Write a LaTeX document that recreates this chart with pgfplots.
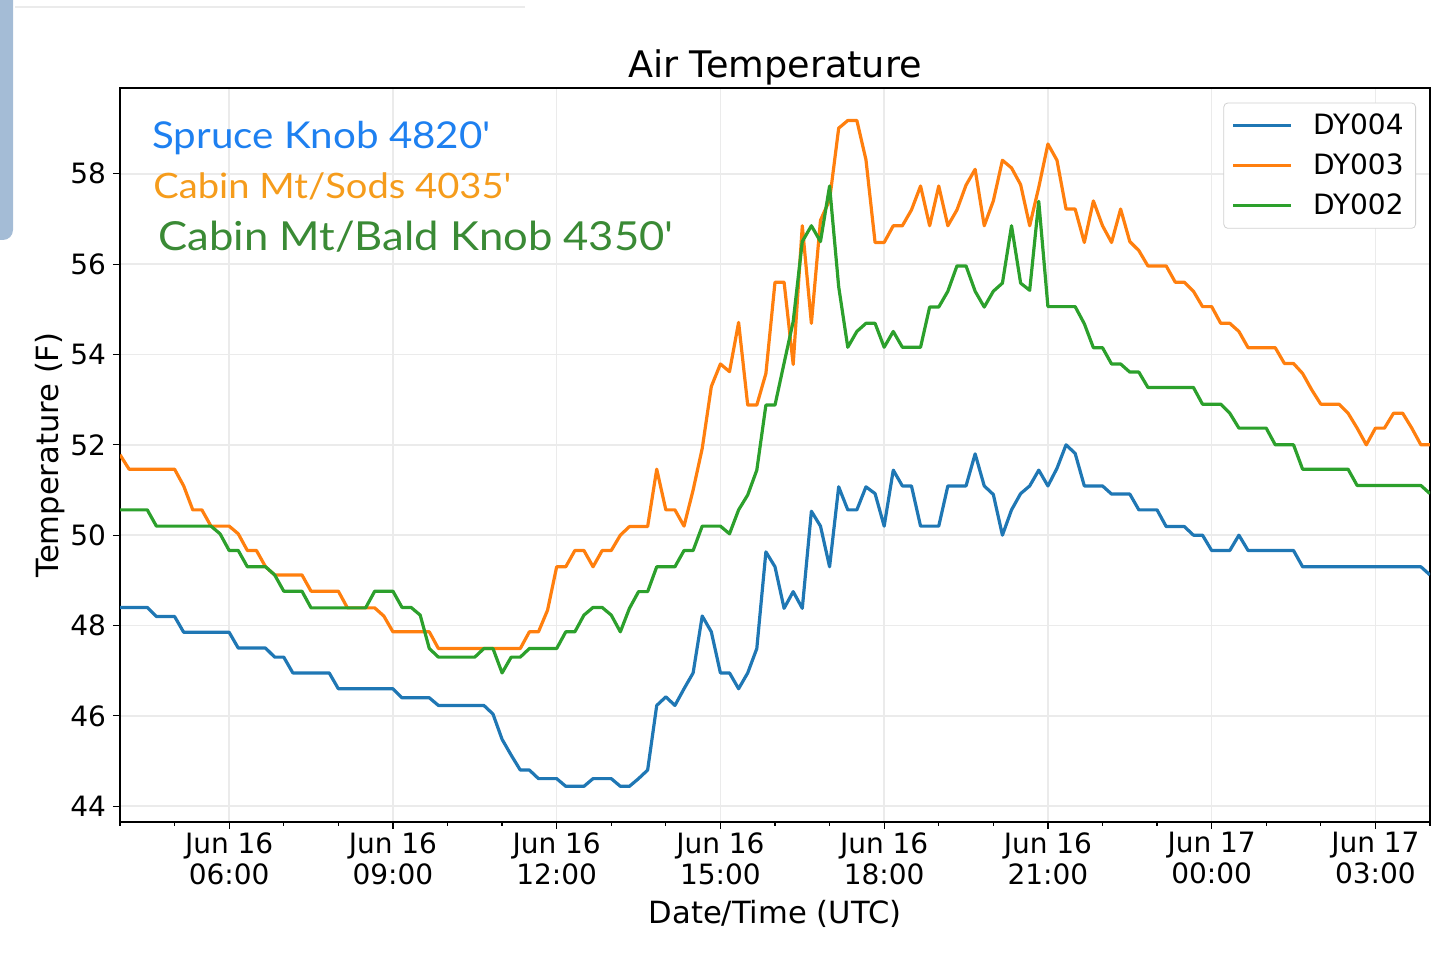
\documentclass[border=0pt]{standalone}
\usepackage{pgfplots}
\pgfplotsset{compat=1.18}
\usepackage{pgfplotstable}
\usepackage{fontspec}
\setmainfont{DejaVu Sans}
\newfontfamily\annotfont[FakeStretch=1.09]{Lato}
\definecolor{cblue}{HTML}{1F77B4}
\definecolor{corange}{HTML}{FF7F0E}
\definecolor{cgreen}{HTML}{2CA02C}
\definecolor{tblue}{HTML}{1E80F0}
\definecolor{torange}{HTML}{F59C1C}
\definecolor{tgreen}{HTML}{3A8A35}
\definecolor{sidebar}{HTML}{A4BCD6}
\definecolor{gridc}{HTML}{EBEBEB}

\pgfplotstableread{
i blue orange green
0 48.4 51.78 50.56
1 48.4 51.46 50.56
2 48.4 51.46 50.56
3 48.4 51.46 50.56
4 48.2 51.46 50.2
5 48.2 51.46 50.2
6 48.2 51.46 50.2
7 47.85 51.09 50.2
8 47.85 50.56 50.2
9 47.85 50.56 50.2
10 47.85 50.2 50.2
11 47.85 50.2 50.03
12 47.85 50.2 49.66
13 47.5 50.03 49.66
14 47.5 49.66 49.3
15 47.5 49.66 49.3
16 47.5 49.3 49.3
17 47.3 49.12 49.12
18 47.3 49.12 48.76
19 46.95 49.12 48.76
20 46.95 49.12 48.76
21 46.95 48.76 48.39
22 46.95 48.76 48.39
23 46.95 48.76 48.39
24 46.6 48.76 48.39
25 46.6 48.39 48.39
26 46.6 48.39 48.39
27 46.6 48.39 48.39
28 46.6 48.39 48.76
29 46.6 48.21 48.76
30 46.6 47.86 48.76
31 46.4 47.86 48.4
32 46.4 47.86 48.4
33 46.4 47.86 48.23
34 46.4 47.86 47.49
35 46.23 47.49 47.3
36 46.23 47.49 47.3
37 46.23 47.49 47.3
38 46.23 47.49 47.3
39 46.23 47.49 47.3
40 46.23 47.49 47.49
41 46.04 47.49 47.49
42 45.48 47.49 46.95
43 45.13 47.49 47.3
44 44.8 47.49 47.3
45 44.8 47.86 47.49
46 44.61 47.86 47.49
47 44.61 48.34 47.49
48 44.61 49.3 47.49
49 44.44 49.3 47.86
50 44.44 49.66 47.86
51 44.44 49.66 48.23
52 44.61 49.3 48.4
53 44.61 49.66 48.4
54 44.61 49.66 48.23
55 44.44 50.0 47.86
56 44.44 50.19 48.38
57 44.61 50.19 48.75
58 44.8 50.19 48.75
59 46.23 51.46 49.3
60 46.42 50.56 49.3
61 46.23 50.56 49.3
62 46.6 50.2 49.66
63 46.95 51.0 49.66
64 48.21 51.92 50.2
65 47.86 53.29 50.2
66 46.95 53.79 50.2
67 46.95 53.62 50.03
68 46.6 54.71 50.56
69 46.95 52.88 50.89
70 47.49 52.88 51.44
71 49.63 53.58 52.88
72 49.3 55.6 52.88
73 48.38 55.6 53.81
74 48.75 53.78 54.73
75 48.38 56.85 56.5
76 50.53 54.69 56.85
77 50.2 56.97 56.5
78 49.3 57.42 57.73
79 51.07 59.01 55.5
80 50.56 59.18 54.16
81 50.56 59.18 54.51
82 51.07 58.31 54.69
83 50.92 56.48 54.69
84 50.2 56.48 54.16
85 51.44 56.85 54.51
86 51.09 56.85 54.16
87 51.09 57.2 54.16
88 50.2 57.73 54.16
89 50.2 56.85 55.05
90 50.2 57.73 55.05
91 51.09 56.85 55.4
92 51.09 57.2 55.96
93 51.09 57.75 55.96
94 51.8 58.1 55.4
95 51.09 56.85 55.05
96 50.9 57.4 55.4
97 50.0 58.3 55.58
98 50.56 58.13 56.85
99 50.92 57.76 55.58
100 51.09 56.85 55.42
101 51.44 57.7 57.39
102 51.09 58.66 55.06
103 51.48 58.3 55.06
104 52.0 57.22 55.06
105 51.81 57.22 55.06
106 51.09 56.48 54.68
107 51.09 57.4 54.15
108 51.09 56.85 54.15
109 50.91 56.48 53.79
110 50.91 57.22 53.79
111 50.91 56.5 53.61
112 50.56 56.3 53.61
113 50.56 55.96 53.27
114 50.56 55.96 53.27
115 50.19 55.96 53.27
116 50.19 55.6 53.27
117 50.19 55.6 53.27
118 50.0 55.4 53.27
119 50.0 55.06 52.9
120 49.66 55.06 52.9
121 49.66 54.69 52.9
122 49.66 54.69 52.7
123 50.0 54.51 52.37
124 49.66 54.15 52.37
125 49.66 54.15 52.37
126 49.66 54.15 52.37
127 49.66 54.15 52.0
128 49.66 53.8 52.0
129 49.66 53.8 52.0
130 49.3 53.58 51.46
131 49.3 53.22 51.46
132 49.3 52.9 51.46
133 49.3 52.9 51.46
134 49.3 52.9 51.46
135 49.3 52.7 51.46
136 49.3 52.37 51.1
137 49.3 52.0 51.1
138 49.3 52.37 51.1
139 49.3 52.37 51.1
140 49.3 52.7 51.1
141 49.3 52.7 51.1
142 49.3 52.37 51.1
143 49.3 52.0 51.1
144 49.12 52.0 50.92
}\temps

\begin{document}
\begin{tikzpicture}
\path[use as bounding box] (0,0) rectangle (720pt,480.5pt);
\fill[sidebar, rounded corners=5pt] (-10pt,360.5pt) rectangle (6.5pt,490pt);
\draw[gridc, line width=0.6pt] (7.5pt,477pt) -- (262.5pt,477pt);
\begin{axis}[
  at={(60pt,69.5pt)}, anchor=south west,
  scale only axis, width=655pt, height=367pt,
  xmin=4, xmax=28, ymin=43.65, ymax=59.9,
  xtick={6,9,12,15,18,21,24,27},
  xticklabels={{Jun 16\\06:00},{Jun 16\\09:00},{Jun 16\\12:00},{Jun 16\\15:00},{Jun 16\\18:00},{Jun 16\\21:00},{Jun 17\\00:00},{Jun 17\\03:00}},
  minor xtick={4,5,...,28},
  ytick={44,46,...,58},
  tick align=outside,
  tick pos=left,
  major tick length=3.5pt,
  minor tick length=2pt,
  every tick/.style={black, line width=0.6pt},
  axis line style={black, line width=0.6pt},
  grid=major,
  major grid style={gridc, line width=0.7pt},
  /pgf/number format/assume math mode=true,
  tick label style={font=\fontsize{14}{15.5}\selectfont},
  xticklabel style={align=center, yshift=1.75pt},
  title={Air Temperature},
  title style={font=\fontsize{18.3}{20}\selectfont, at={(axis description cs:0.5,1)}, anchor=base, yshift=-1pt},
  xlabel={Date/Time (UTC)},
  xlabel style={font=\fontsize{15.3}{17}\selectfont, at={(axis description cs:0.5,0)}, anchor=base, yshift=-51pt},
  ylabel={Temperature (F)},
  ylabel style={font=\fontsize{15.3}{17}\selectfont, at={(axis description cs:0,0.5)}, anchor=base, yshift=30.5pt},
  legend style={at={(rel axis cs:1,1)}, xshift=-7pt, yshift=-7.3pt, anchor=north east,
    draw=black!18, rounded corners=2pt, fill=white, font=\fontsize{14}{16}\selectfont,
    inner xsep=4pt, inner ysep=3.5pt, row sep=4pt, column sep=8pt},
  legend cell align=left,
  legend image code/.code={\draw[#1] (0pt,0pt) -- (29pt,0pt);},
  every axis plot/.append style={line width=1.6pt, line join=round},
  clip=true,
]
\addplot[cblue] table[x expr=4+\thisrow{i}/6, y=blue] {\temps};
\addlegendentry{DY004}
\addplot[corange] table[x expr=4+\thisrow{i}/6, y=orange] {\temps};
\addlegendentry{DY003}
\addplot[cgreen] table[x expr=4+\thisrow{i}/6, y=green] {\temps};
\addlegendentry{DY002}
\node[anchor=base west, inner sep=0pt, text=tblue, font=\annotfont\fontsize{18.5}{20}\selectfont] at (rel axis cs:0.0244,0.918) {Spruce Knob 4820'};
\node[anchor=base west, inner sep=0pt, text=torange, font=\annotfont\fontsize{17.5}{20}\selectfont] at (rel axis cs:0.0252,0.849) {Cabin Mt/Sods 4035'};
\node[anchor=base west, inner sep=0pt, text=tgreen, font=\annotfont\fontsize{20}{22}\selectfont] at (rel axis cs:0.029,0.779) {Cabin Mt/Bald Knob 4350'};
\end{axis}
\end{tikzpicture}
\end{document}
